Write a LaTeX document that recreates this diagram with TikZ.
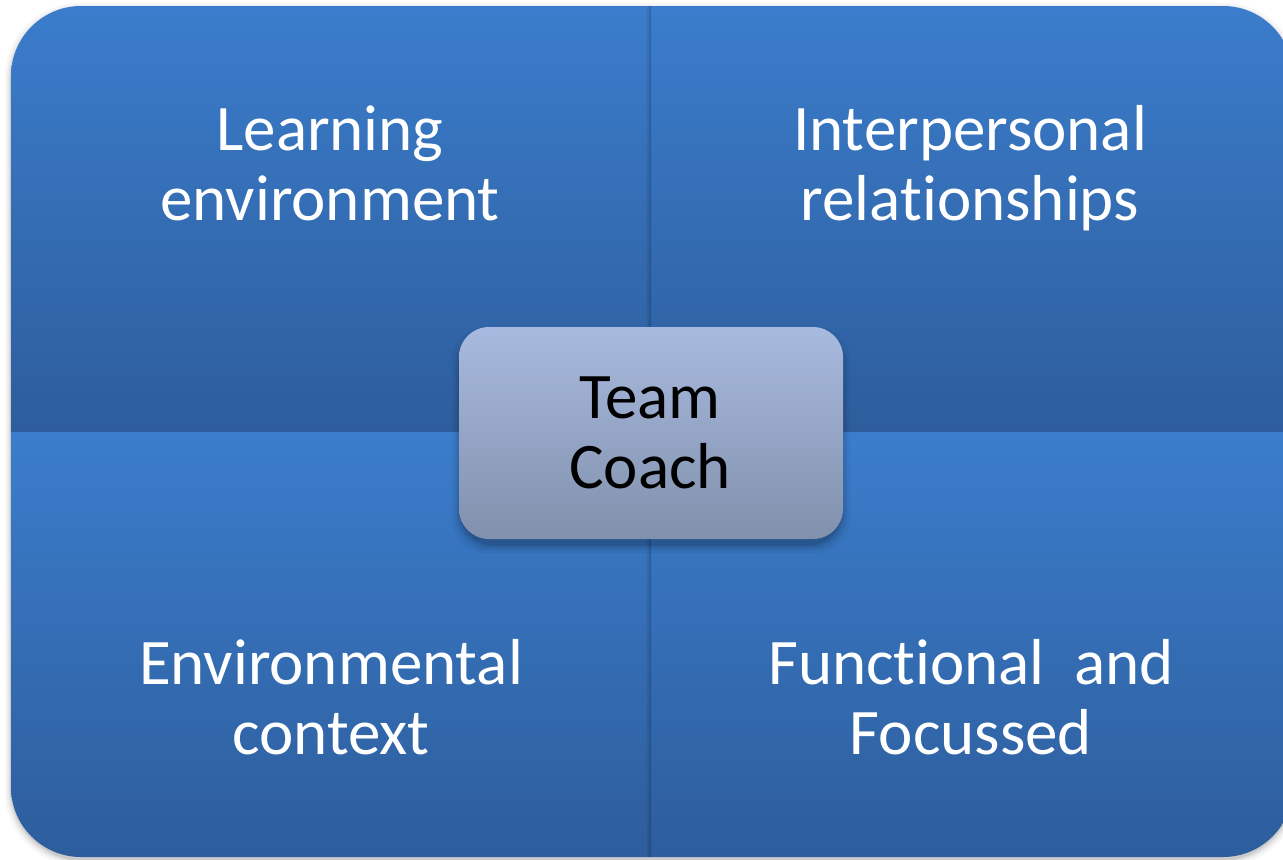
\documentclass[tikz,border=0pt]{standalone}
\usepackage{fontspec}
\setmainfont{Carlito}[Ligatures={NoCommon,NoRequired,NoContextual}]
\definecolor{qtop}{RGB}{59,125,204}
\definecolor{qbot}{RGB}{45,93,156}
\definecolor{ctop}{RGB}{168,186,223}
\definecolor{cbot}{RGB}{129,144,172}
\begin{document}
\begin{tikzpicture}[x=0.5pt,y=-0.5pt,
  lbl/.style={text=white,font=\fontsize{32.5}{35}\selectfont,align=center,inner sep=0pt},
  quad/.style={top color=qtop,bottom color=qbot,draw=none}]
\useasboundingbox (0,0) rectangle (1283,859);
% soft outer shadow
\foreach \d/\o in {6/0.03,4/0.04,2.5/0.06,1/0.09}{
  \fill[black,opacity=\o,rounded corners=37pt] (11-\d,6-\d+3) rectangle (1293+\d,857+\d+3);
}
\begin{scope}
  \clip[rounded corners=35pt] (11,6) rectangle (1293,857);
  \shade[quad] (11,6) rectangle (651,432.5);
  \shade[quad] (651,6) rectangle (1293,432.5);
  \shade[quad] (11,432.5) rectangle (651,857);
  \shade[quad] (651,432.5) rectangle (1293,857);
  \foreach \x/\o in {646/0.03,647/0.06,648/0.09,649/0.13,650/0.2}{
    \fill[black,opacity=\o] (\x,6) rectangle (\x+1,857);
  }
\end{scope}
% shadow of the centre box
\foreach \d/\o in {9/0.04,6/0.06,3.5/0.08,1.5/0.11}{
  \fill[black,opacity=\o,rounded corners=17pt] (459-\d+2,327-\d+9) rectangle (843+\d-2,539+\d+5);
}
\node[minimum width=192pt,minimum height=106pt,rounded corners=15pt,
      top color=ctop,bottom color=cbot,inner sep=0pt] (coachbox) at (651,433) {};
\node[lbl,text=black] (coachtext) at (650,439) {\strut Team\\Coach\strut};
\node[lbl] (le) at (330,171) {\strut Learning\\environment\strut};
\node[lbl] (ir) at (970,171) {\strut Interpersonal\\relationships\strut};
\node[lbl] (ec) at (331,705) {\strut Environmental\\context\strut};
\node[lbl] (ff) at (971,705) {\strut Functional\ \ and\\Focussed\strut};
\end{tikzpicture}
\end{document}
